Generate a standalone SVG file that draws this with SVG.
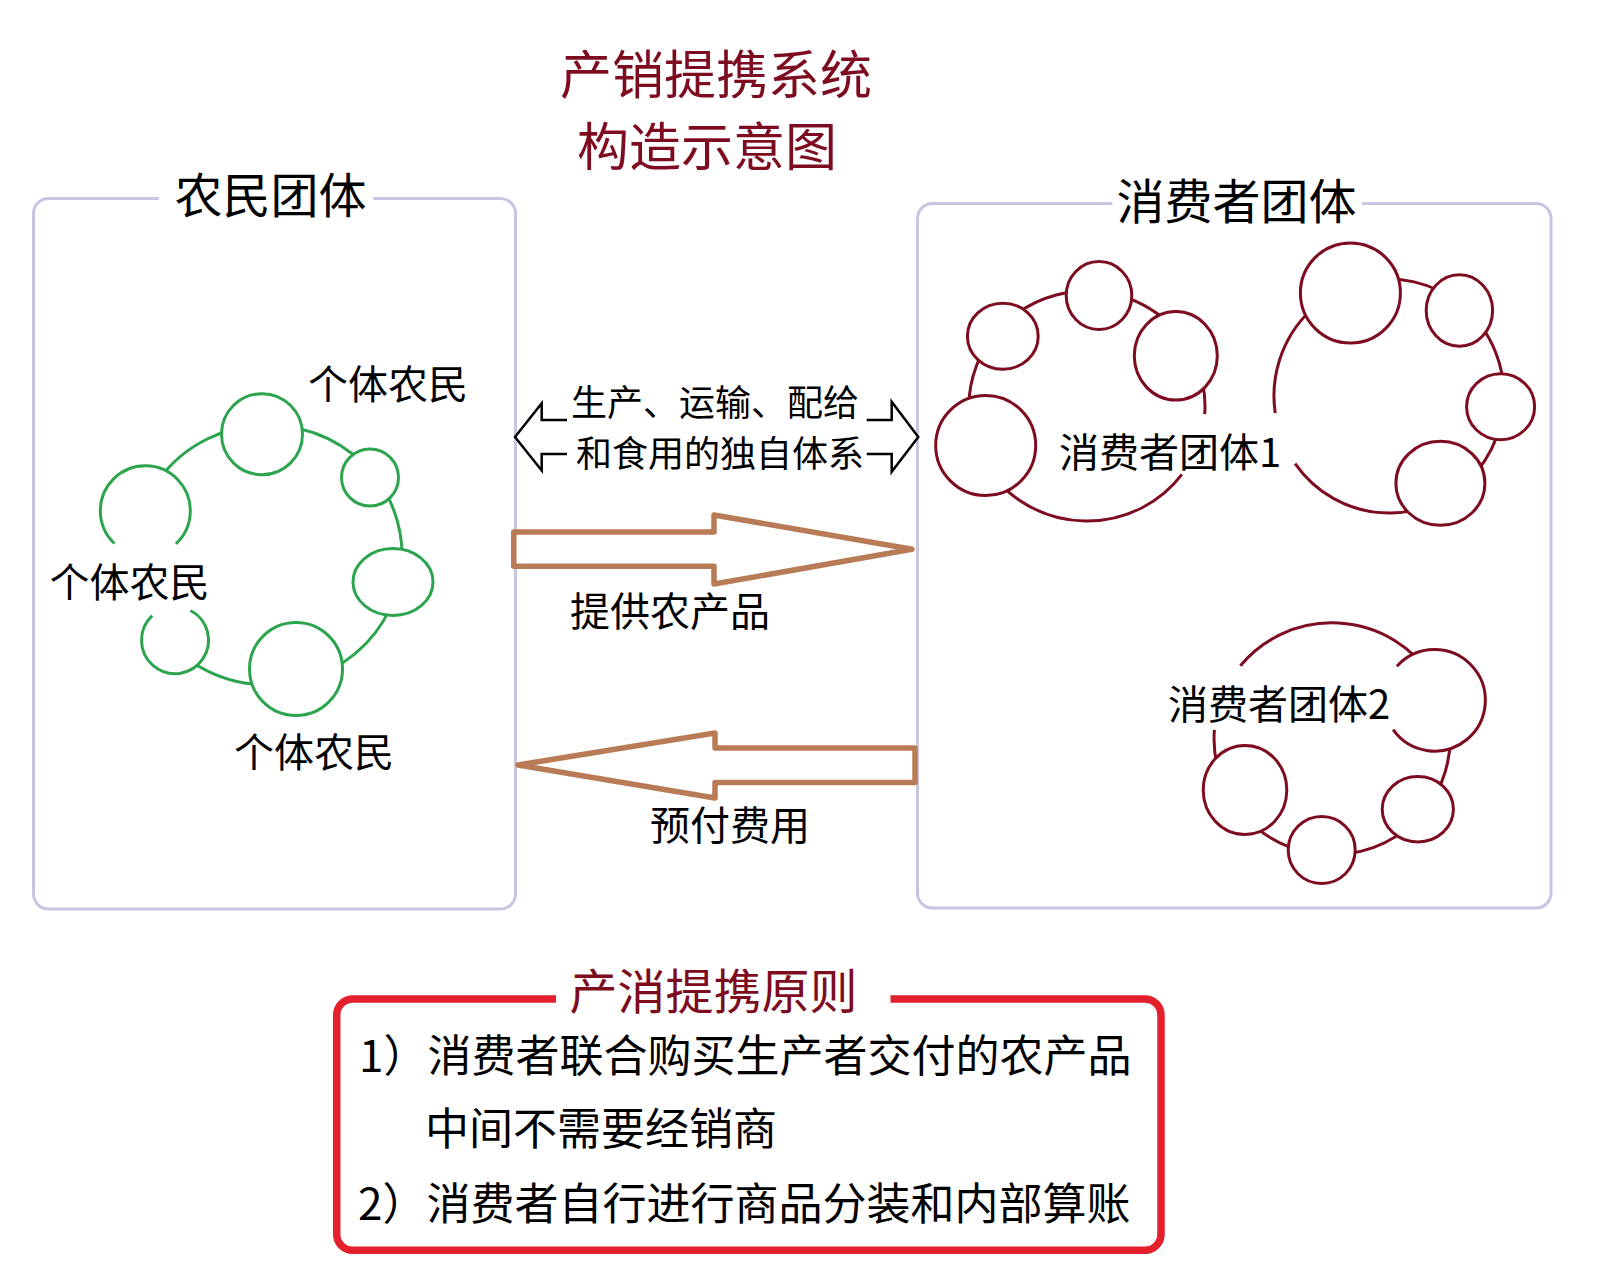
<svg xmlns="http://www.w3.org/2000/svg" width="1602" height="1288" viewBox="0 0 1602 1288">
<defs>
<style>
text{font-family:"Noto Sans CJK SC","Noto Sans",sans-serif;fill:#000}
.title{fill:#7d0c20;font-size:52px}
.frame{fill:none;stroke:#c8c4e2;stroke-width:3}
.g{fill:#fff;stroke:#2ca44e;stroke-width:3}
.gn{fill:none;stroke:#2ca44e;stroke-width:3}
.r{fill:#fff;stroke:#7d0c20;stroke-width:3}
.rn{fill:none;stroke:#7d0c20;stroke-width:3}
.brown{fill:#fff;stroke:#b97b56;stroke-width:5.5;stroke-linejoin:round}
.blk{fill:none;stroke:#000;stroke-width:2.5;stroke-linejoin:miter}
.lbl{font-size:40px}
.big{font-size:48px}
.mid{font-size:36px}
.rule{font-size:44px}
</style>
</defs>
<rect width="1602" height="1288" fill="#fff"/>

<g id="title">
<text class="title" x="716" y="94" text-anchor="middle">产销提携系统</text>
<text class="title" x="707" y="166" text-anchor="middle">构造示意图</text>
</g>

<g id="farmer-group">
<path class="frame" d="M159,198.5 H48.5 A15,15 0 0 0 33.5,213.5 V894 A15,15 0 0 0 48.5,909 H500.5 A15,15 0 0 0 515.5,894 V213.5 A15,15 0 0 0 500.5,198.5 H373.5"/>
<text class="big" x="270.5" y="213" text-anchor="middle">农民团体</text>
<path class="gn" d="M136,532.4 A134,130 0 1 1 152,620"/>
<circle class="g" cx="262" cy="434.2" r="40.5"/>
<circle class="g" cx="370" cy="477.5" r="28.5"/>
<ellipse class="g" cx="393" cy="582" rx="40" ry="33.5"/>
<circle class="g" cx="296" cy="669" r="46.5"/>
<path class="g" d="M114.4,543.5 A45,45 0 1 1 175.9,543.8"/>
<path class="g" d="M190.5,610.5 A33.5,33.5 0 1 1 152.2,615.7"/>
<text class="lbl" x="388" y="399" text-anchor="middle">个体农民</text>
<text class="lbl" x="129.5" y="597" text-anchor="middle">个体农民</text>
<text class="lbl" x="314" y="767" text-anchor="middle">个体农民</text>
</g>

<g id="consumer-group">
<path class="frame" d="M1112.5,203.5 H932.5 A15,15 0 0 0 917.5,218.5 V893 A15,15 0 0 0 932.5,908 H1536 A15,15 0 0 0 1551,893 V218.5 A15,15 0 0 0 1536,203.5 H1362"/>
<text class="big" x="1236.5" y="219" text-anchor="middle">消费者团体</text>
</g>

<g id="consumer-group-1">
<path class="rn" d="M1181.9,474.4 A118,115 0 1 1 1204.7,414.2"/>
<ellipse class="r" cx="1002.8" cy="336.2" rx="35.4" ry="33"/>
<ellipse class="r" cx="1099" cy="295.5" rx="32.8" ry="34"/>
<ellipse class="r" cx="1175.8" cy="355.8" rx="41.5" ry="44.3"/>
<circle class="r" cx="985.7" cy="445.5" r="50"/>
<text class="lbl" x="1059" y="466.5">消费者团体1</text>
</g>

<g id="consumer-group-unnamed">
<path class="rn" d="M1275.2,413.1 A115,117 0 1 1 1295.1,463.6"/>
<circle class="r" cx="1350.4" cy="293" r="50"/>
<ellipse class="r" cx="1459.4" cy="310.5" rx="33.2" ry="35.7"/>
<ellipse class="r" cx="1500.6" cy="406.7" rx="34" ry="33"/>
<ellipse class="r" cx="1440.4" cy="483.3" rx="44.5" ry="42"/>
</g>

<g id="consumer-group-2">
<path class="rn" d="M1240.4,665.8 A118,116 0 1 1 1214.4,729.9"/>
<path class="r" d="M1396.9,666.2 A50.8,50.8 0 1 1 1393.1,729.7"/>
<ellipse class="r" cx="1245" cy="790" rx="41.8" ry="44.5"/>
<circle class="r" cx="1321.7" cy="850" r="33.5"/>
<ellipse class="r" cx="1417.8" cy="809.2" rx="35.6" ry="32.7"/>
<text class="lbl" x="1168" y="719">消费者团体2</text>
</g>

<g id="connectors">
<path class="blk" d="M567,420 H541.7 V403.3 L515,437 L541.7,470.5 V454 H567"/>
<path class="blk" d="M866.7,420 H891.7 V401.7 L918.3,437 L891.7,471.7 V454 H866.7"/>
<text class="mid" x="715" y="415.5" text-anchor="middle">生产、运输、配给</text>
<text class="mid" x="720" y="467" text-anchor="middle">和食用的独自体系</text>
<polygon class="brown" points="513.8,532 714,532 714,515 912,549.3 714,584 714,566.3 513.8,566.3"/>
<text class="lbl" x="670" y="625.5" text-anchor="middle">提供农产品</text>
<polygon class="brown" points="518,765 715,733 715,748 915,748 915,782.5 715,782.5 715,798"/>
<text class="lbl" x="730" y="840" text-anchor="middle">预付费用</text>
</g>

<g id="principles">
<path d="M556,999 H352.7 A16,16 0 0 0 336.7,1015 V1234.3 A16,16 0 0 0 352.7,1250.3 H1145 A16,16 0 0 0 1161,1234.3 V1015 A16,16 0 0 0 1145,999 H890.5" fill="none" stroke="#e3202b" stroke-width="7.5"/>
<text class="big" style="fill:#7d0c20" x="713.5" y="1009" text-anchor="middle">产消提携原则</text>
<text class="rule" x="359" y="1072">1）消费者联合购买生产者交付的农产品</text>
<text class="rule" x="425" y="1145">中间不需要经销商</text>
<text class="rule" x="358" y="1220">2）消费者自行进行商品分装和内部算账</text>
</g>
</svg>
